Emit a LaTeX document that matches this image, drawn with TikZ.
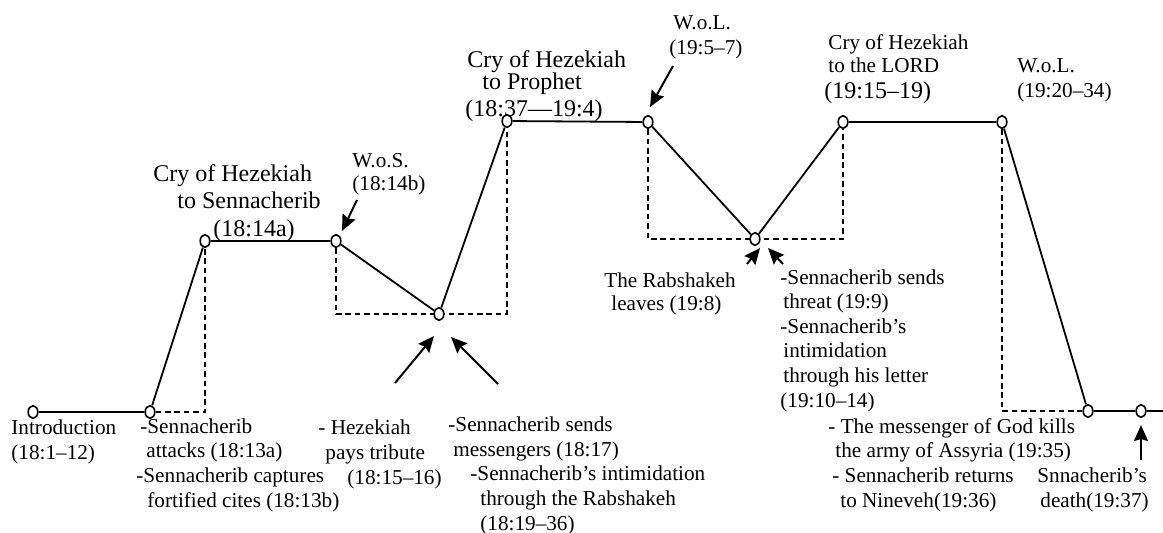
\documentclass[tikz,border=0pt]{standalone}
\usepackage{fontspec}
\setmainfont{Liberation Serif}
\usepackage{tikz}
\usetikzlibrary{shapes.geometric, arrows.meta, backgrounds}

\begin{document}
\begin{tikzpicture}[
    x=0.5pt, y=-0.5pt,
    every node/.style={font=\fontsize{10.6}{12.3}\selectfont},
    event/.style={ellipse, draw, fill=white, line width=0.8pt, minimum width=4.8pt, minimum height=6.3pt, inner sep=0pt},
    note/.style={anchor=base west, align=left, inner sep=0pt},
    bignote/.style={note, font=\fontsize{12}{13.75}\selectfont},
    plot/.style={line width=0.9pt},
    guide/.style={line width=0.7pt, dash pattern=on 2.8pt off 1.9pt},
    arrow/.style={-{Stealth[length=8pt, width=7pt, inset=1pt]}, line width=1pt}
]
\useasboundingbox (0,0) rectangle (1163,532);

% Events
\node[event] (intro) at (33,412) {};
\node[event] (attack) at (150,412) {};
\node[event] (crysen) at (205,241) {};
\node[event] (wos) at (336,241) {};
\node[event] (tribute) at (439,314) {};
\node[event] (cryprophet) at (507,121) {};
\node[event] (wol) at (648,122) {};
\node[event] (leaves) at (755,239) {};
\node[event] (crylord) at (843,122) {};
\node[event] (wolb) at (1002,122) {};
\node[event] (kills) at (1088,411) {};
\node[event] (death) at (1141,411) {};
\coordinate (lineend) at (1163,411);

% Plot line
\draw[plot] (intro) -- (attack) -- (crysen) -- (wos) -- (tribute) -- (cryprophet) -- (wol)
    -- (leaves) -- (crylord) -- (wolb) -- (kills) -- (death) -- (lineend);

% Dashed guides
\begin{scope}[on background layer]
\draw[guide] (attack) -- (attack -| crysen) -- (crysen);
\draw[guide] (wos) -- (wos |- tribute) -- (cryprophet |- tribute) -- (cryprophet);
\draw[guide] (wol) -- (wol |- leaves) -- (crylord |- leaves) -- (crylord);
\draw[guide] (wolb) -- (wolb |- kills) -- (kills);
\end{scope}

% Labels above (placed at the baseline of their last line)
\node[bignote] (crysenlbl) at (153,236) {Cry of Hezekiah\\\hspace*{12pt}to Sennacherib\\\hspace*{30pt}(18:14a)};
\node[note] (woslbl) at (352,190) {W.o.S.\\[-0.8pt](18:14b)};
\node[bignote] (cryprolbl) at (465,116) {\hspace*{1pt}Cry of Hezekiah\\[-3pt]\hspace*{8.5pt}to Prophet\\[-0.25pt](18:37---19:4)};
\node[note] (wollbl) at (669,54) {\hspace*{2pt}W.o.L.\\(19:5--7)};
\node[note] (crylordlbl) at (824,98) {\hspace*{2pt}Cry of Hezekiah\\[-0.8pt]\hspace*{2pt}to the LORD\\[0.7pt]{\fontsize{12}{13.75}\selectfont(19:15--19)}};
\node[note] (wolblbl) at (1017,97) {W.o.L.\\(19:20--34)};

% Labels below
\node[note] (introlbl) at (11,459) {Introduction\\(18:1--12)};
\node[note] (attacklbl) at (136,507) {\hspace*{2pt}-Sennacherib\\\hspace*{5pt}attacks (18:13a)\\-Sennacherib captures\\\hspace*{5.5pt}fortified cites (18:13b)};
\node[note] (tributelbl) at (318,484) {- Hezekiah\\\hspace*{3.5pt}pays tribute\\\hspace*{14.5pt}(18:15--16)};
\node[note] (messlbl) at (448,530) {-Sennacherib sends\\\hspace*{2.5pt}messengers (18:17)\\\hspace*{11pt}-Sennacherib's intimidation\\\hspace*{16pt}through the Rabshakeh\\\hspace*{16pt}(18:19--36)};
\node[note] (leaveslbl) at (604,310) {The Rabshakeh\\[-0.8pt]\hspace*{3.5pt}leaves (19:8)};
\node[note] (threatlbl) at (780,407) {-Sennacherib sends\\\hspace*{1.5pt}threat (19:9)\\-Sennacherib's\\\hspace*{1.5pt}intimidation\\\hspace*{1.5pt}through his letter\\(19:10--14)};
\node[note] (killslbl) at (828,507) {- The messenger of God kills\\\hspace*{3.5pt}the army of Assyria (19:35)\\\hspace*{2pt}- Sennacherib returns\\\hspace*{6pt}to Nineveh(19:36)};
\node[note] (deathlbl) at (1037,507) {Snnacherib's\\\hspace*{1.5pt}death(19:37)};

% Arrow ends
\coordinate (wostail) at (357,200);
\coordinate (wostip) at (342,231);
\coordinate (tribtaila) at (395,383);
\coordinate (tribtipa) at (434,336);
\coordinate (tribtailb) at (498,384);
\coordinate (tribtipb) at (451,337);
\coordinate (woltail) at (673,66);
\coordinate (woltip) at (650,107);
\coordinate (leavtaila) at (747,264);
\coordinate (leavtipa) at (760,248);
\coordinate (leavtailb) at (783,264);
\coordinate (leavtipb) at (768,248);
\coordinate (deathtail) at (1141,460);
\coordinate (deathtip) at (1141,425);

% Arrows
\draw[arrow] (wostail) -- (wostip);
\draw[arrow] (tribtaila) -- (tribtipa);
\draw[arrow] (tribtailb) -- (tribtipb);
\draw[arrow] (woltail) -- (woltip);
\draw[arrow] (leavtaila) -- (leavtipa);
\draw[arrow] (leavtailb) -- (leavtipb);
\draw[arrow] (deathtail) -- (deathtip);

\end{tikzpicture}
\end{document}
